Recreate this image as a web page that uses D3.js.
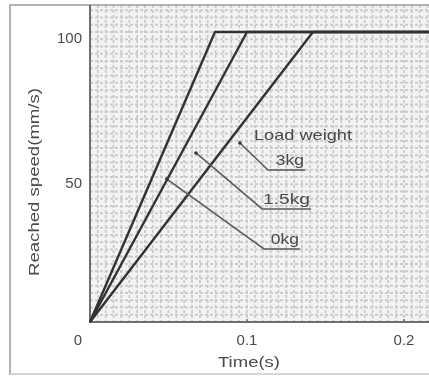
<!DOCTYPE html>
<meta charset="utf-8">
<style>
  body { margin: 0; background: #fff; }
  text { font-family: "Liberation Sans", Arial, sans-serif; fill: #4a4a4a; }
</style>
<script src="https://d3js.org/d3.v7.min.js"></script>
<div id="chart"></div>
<script>
  // data
  var loads = ["0kg", "1.5kg", "3kg"]
  var times0 = [0, 0.0796, 0.216]
  var times15 = [0, 0.1, 0.216]
  var times3 = [0, 0.142, 0.216]
  var speeds = [0, 100, 100]
  var xTicks = [0.1, 0.2]
  var yTicks = [50, 100]
  // leader lines: start point (t, v), elbow (t, v), end of underline (t)
  var leadStart = [[0.049, 49.3], [0.0675, 58.3], [0.0955, 61.7]]
  var leadElbow = [[0.1108, 25.2], [0.1096, 39.0], [0.1134, 52.4]]
  var leadEnd = [0.1338, 0.1408, 0.137]

  var width = 429, height = 376

  var svg = d3.select("#chart").append("svg")
    .attr("width", width)
    .attr("height", height)

  // soft blur so it reads like the scanned figure
  svg.append("defs").append("filter").attr("id", "soft")
    .append("feGaussianBlur").attr("stdDeviation", 0.6)

  var g = svg.append("g").attr("filter", "url(#soft)")

  var x = d3.scaleLinear().domain([0, 0.2]).range([90, 404])
  var y = d3.scaleLinear().domain([0, 100]).range([322, 32])
  var x1 = x.invert(429), y1 = y.invert(5)

  // halftone-ish grid
  var gx = d3.range(0, x1, 0.005)
  var gy = d3.range(0, y1, 2.5)
  g.append("rect")
    .attr("x", x(0)).attr("y", y(y1))
    .attr("width", x(x1) - x(0)).attr("height", y(0) - y(y1))
    .attr("fill", "#f3f3f3")
  g.selectAll(".gx").data(gx).enter().append("line")
    .attr("x1", function(d) { return x(d) }).attr("x2", function(d) { return x(d) })
    .attr("y1", y(y1)).attr("y2", y(0))
    .attr("stroke", "#cbcbcb").attr("stroke-width", 1.8)
    .attr("stroke-dasharray", "3 2")
  g.selectAll(".gy").data(gy).enter().append("line")
    .attr("y1", function(d) { return y(d) }).attr("y2", function(d) { return y(d) })
    .attr("x1", x(0)).attr("x2", x(x1))
    .attr("stroke", "#cbcbcb").attr("stroke-width", 1.8)
    .attr("stroke-dasharray", "3 2")

  // outer frame
  g.append("path")
    .attr("d", "M10," + 375 + "V5H429")
    .attr("fill", "none").attr("stroke", "#9a9a9a").attr("stroke-width", 1.5)
  g.append("line").attr("x1", 10).attr("x2", 429).attr("y1", 374).attr("y2", 374)
    .attr("stroke", "#c8c8c8").attr("stroke-width", 1.5)

  // axes
  g.append("path")
    .attr("d", "M" + x(0) + "," + y(y1) + "V" + y(0) + "H" + x(x1))
    .attr("fill", "none").attr("stroke", "#6e6e6e").attr("stroke-width", 2)

  g.selectAll(".xt").data(xTicks).enter().append("line")
    .attr("x1", function(d) { return x(d) }).attr("x2", function(d) { return x(d) })
    .attr("y1", y(0)).attr("y2", y(0) - 3)
    .attr("stroke", "#6e6e6e").attr("stroke-width", 1.5)

  g.selectAll(".xl").data(xTicks).enter().append("text")
    .attr("x", function(d) { return x(d) })
    .attr("y", y(0) + 23)
    .attr("text-anchor", "middle")
    .style("font-size", "15px")
    .text(function(d) { return d })

  g.selectAll(".yl").data(yTicks).enter().append("text")
    .attr("x", x(0) - 8)
    .attr("y", function(d) { return y(d) + 11 })
    .attr("text-anchor", "end")
    .style("font-size", "15px")
    .text(function(d) { return d })

  g.append("text").attr("x", 78).attr("y", y(0) + 23)
    .attr("text-anchor", "middle").style("font-size", "15px").text("0")

  g.append("text").attr("x", 249).attr("y", 367)
    .attr("text-anchor", "middle").style("font-size", "15px")
    .attr("textLength", 62).attr("lengthAdjust", "spacingAndGlyphs")
    .text("Time(s)")

  g.append("text")
    .attr("transform", "translate(39,182) rotate(-90)")
    .attr("text-anchor", "middle").style("font-size", "15px")
    .attr("textLength", 188).attr("lengthAdjust", "spacingAndGlyphs")
    .text("Reached speed(mm/s)")

  // speed curves
  var times = [times0, times15, times3]
  var line = d3.line()
    .x(function(d) { return x(d[0]) })
    .y(function(d) { return y(d[1]) })
  g.selectAll(".curve").data(times).enter().append("path")
    .attr("d", function(t) { return line(d3.zip(t, speeds)) })
    .attr("fill", "none").attr("stroke", "#333").attr("stroke-width", 2.4)
    .attr("stroke-linejoin", "round")

  // leaders and labels
  loads.forEach(function(name, i) {
    var s = leadStart[i], e = leadElbow[i]
    g.append("path")
      .attr("d", "M" + x(s[0]) + "," + y(s[1]) + "L" + x(e[0]) + "," + y(e[1]) + "H" + x(leadEnd[i]))
      .attr("fill", "none").attr("stroke", "#5a5a5a").attr("stroke-width", 1.5)
    g.append("circle").attr("cx", x(s[0])).attr("cy", y(s[1])).attr("r", 1.8).attr("fill", "#333")
    var w = name.length * 9.4
    g.append("text")
      .attr("x", x(leadEnd[i]) - 1).attr("y", y(e[1]) - 5)
      .attr("text-anchor", "end").style("font-size", "15px")
      .attr("textLength", w).attr("lengthAdjust", "spacingAndGlyphs")
      .text(name)
  })

  g.append("text").attr("x", 254).attr("y", 140)
    .style("font-size", "15px")
    .attr("textLength", 98).attr("lengthAdjust", "spacingAndGlyphs")
    .text("Load weight")
</script>
